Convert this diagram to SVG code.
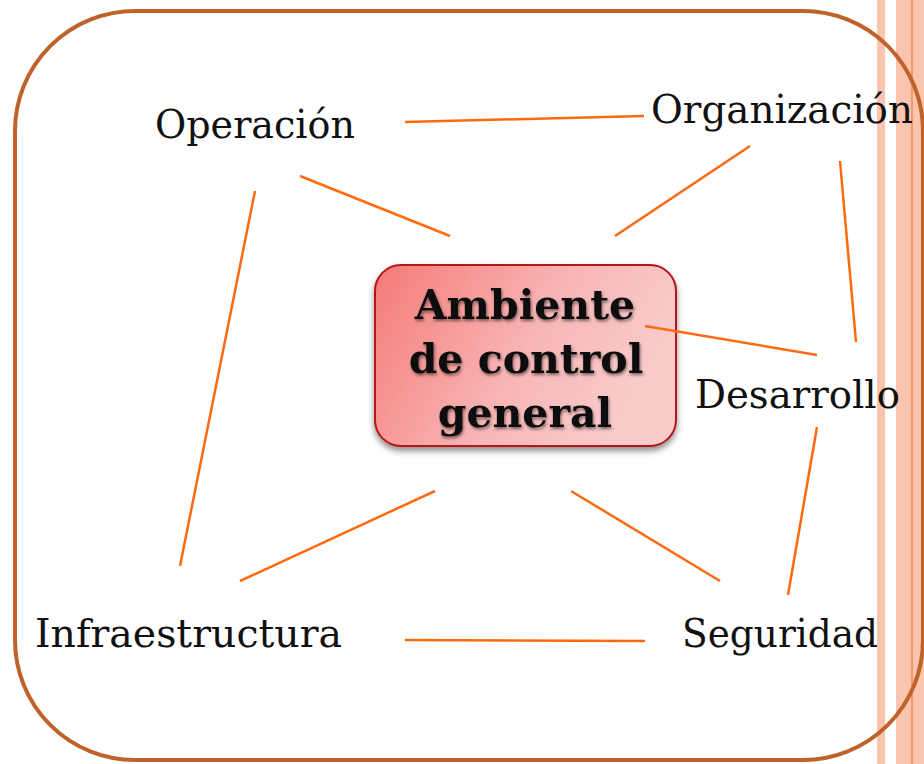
<svg xmlns="http://www.w3.org/2000/svg" width="924" height="764" viewBox="0 0 924 764">
<style>
.lbl{font-family:"DejaVu Serif","Liberation Serif",serif;font-size:39px;fill:#111}
.ctr{font-family:"DejaVu Serif","Liberation Serif",serif;font-size:41px;font-weight:bold;fill:#111;text-anchor:middle}
.con line{stroke:#FF6A0E;stroke-width:2.5;stroke-linecap:butt}
</style>
<defs>
<linearGradient id="g" x1="0" y1="0" x2="1" y2="0.35">
<stop offset="0" stop-color="#F47A76"/>
<stop offset="0.6" stop-color="#F8B6B6"/>
<stop offset="1" stop-color="#F9CBCB"/>
</linearGradient>
<filter id="sh" x="-10%" y="-10%" width="120%" height="130%">
<feDropShadow dx="0" dy="4" stdDeviation="3" flood-color="#000" flood-opacity="0.45"/>
</filter>
<filter id="tsh" x="-10%" y="-20%" width="120%" height="150%">
<feDropShadow dx="1" dy="2" stdDeviation="1.5" flood-color="#000" flood-opacity="0.5"/>
</filter>
</defs>
<rect width="924" height="764" fill="#fff"/>
<g id="stripes">
<rect x="877" y="0" width="8" height="764" fill="#FAC4AE"/>
<rect x="896" y="0" width="28" height="764" fill="#FAC4AE"/>
<line x1="912" y1="0" x2="912" y2="764" stroke="#F58A4E" stroke-width="1.5"/>
</g>
<rect id="frame" x="15" y="11" width="908" height="749" rx="120" ry="120" fill="none" stroke="#C0632B" stroke-width="4"/>
<g id="center">
<rect x="375" y="265" width="301" height="181" rx="26" ry="26" fill="url(#g)" stroke="#B71515" stroke-width="2" filter="url(#sh)"/>
<g filter="url(#tsh)">
<text class="ctr" x="525" y="319">Ambiente</text>
<text class="ctr" x="526" y="373">de control</text>
<text class="ctr" x="525" y="427">general</text>
</g>
</g>
<g id="connectors" class="con">
<line x1="405" y1="122" x2="644" y2="116"/>
<line x1="300" y1="176" x2="450" y2="236"/>
<line x1="750" y1="146" x2="615" y2="236"/>
<line x1="840" y1="161" x2="856" y2="342"/>
<line x1="645" y1="326" x2="817" y2="355"/>
<line x1="255" y1="191" x2="180" y2="566"/>
<line x1="435" y1="491" x2="240" y2="581"/>
<line x1="571" y1="491" x2="720" y2="581"/>
<line x1="817" y1="427" x2="788" y2="595"/>
<line x1="405" y1="640" x2="645" y2="641"/>
</g>
<g id="operacion"><text class="lbl" x="155" y="138" textLength="200" lengthAdjust="spacingAndGlyphs">Operación</text></g>
<g id="organizacion"><text class="lbl" x="651" y="123" textLength="262" lengthAdjust="spacingAndGlyphs">Organización</text></g>
<g id="desarrollo"><text class="lbl" x="695" y="408" textLength="205" lengthAdjust="spacingAndGlyphs">Desarrollo</text></g>
<g id="infraestructura"><text class="lbl" x="35" y="647" textLength="307" lengthAdjust="spacingAndGlyphs">Infraestructura</text></g>
<g id="seguridad"><text class="lbl" x="682" y="647" textLength="196" lengthAdjust="spacingAndGlyphs">Seguridad</text></g>
</svg>
